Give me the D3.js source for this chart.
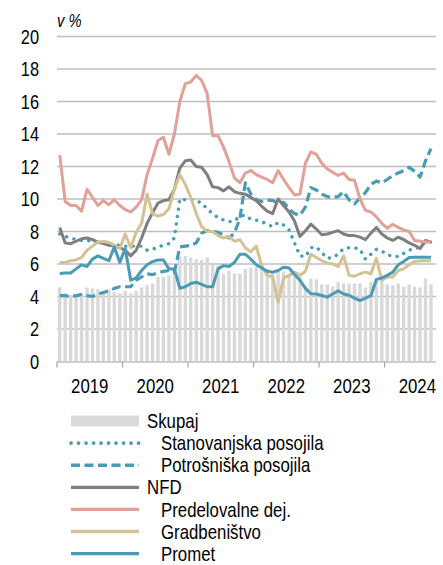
<!DOCTYPE html>
<html><head><meta charset="utf-8">
<script src="https://cdn.jsdelivr.net/npm/d3@7"></script>
<style>
html,body{margin:0;padding:0;background:#fff;}
svg{display:block;}
text{font-family:"Liberation Sans",Arial,sans-serif;fill:#000;}
</style></head>
<body>
<svg id="c" width="443" height="565"></svg>
<script>
const years = ["2019","2020","2021","2022","2023","2024"];
const yTicks = [0,2,4,6,8,10,12,14,16,18,20];
const nMonths = 69; // Jan 2019 – Sep 2024

const skupaj = [4.57,4.2,4.1,4.06,4.15,4.55,4.5,4.45,4.2,4.45,4.3,4.2,
  4.35,4.2,4.35,4.55,4.7,4.8,5.2,5.2,5.3,5.6,6.46,6.5,
  6.4,6.3,6.25,6.4,6.0,5.9,5.4,5.6,5.4,5.4,5.7,5.75,
  5.8,5.8,5.7,5.55,5.5,5.55,5.3,5.25,5.2,4.7,5.1,5.05,
  4.75,4.75,4.6,4.9,4.8,4.8,4.8,4.8,4.55,4.9,5.05,5.0,
  4.75,4.7,4.8,4.6,4.75,4.6,4.55,5.1,4.75];
const stanovanjska = [7.85,7.7,7.6,7.5,7.45,7.45,7.4,7.35,7.3,7.25,7.2,7.15,
  7.1,7.1,7.1,7.1,6.85,6.9,7.05,7.15,7.25,7.6,10.0,9.95,
  9.95,9.9,9.75,9.4,9.1,8.85,8.7,8.6,8.65,8.95,9.0,8.75,
  8.7,8.6,8.45,8.3,8.55,8.4,8.1,7.3,6.5,6.45,7.0,7.05,
  6.7,6.35,6.4,6.6,6.95,7.0,7.0,6.9,6.3,6.6,6.9,6.8,
  6.55,6.5,6.45,6.65,6.85,6.95,7.05,7.35,7.35];
const potrosniska = [4.05,4.05,4.0,4.05,4.12,4.05,4.0,4.15,4.25,4.35,4.5,4.6,
  4.6,4.6,5.0,5.2,5.4,5.35,5.45,5.55,5.6,5.5,7.05,7.1,
  7.15,7.3,7.9,8.05,8.0,7.95,7.8,7.6,7.9,8.8,11.0,10.3,
  9.95,9.85,9.95,9.9,9.75,9.8,9.4,9.1,9.0,9.5,10.7,10.55,
  10.3,10.15,10.1,10.15,10.45,9.95,9.7,10.05,10.4,10.9,11.1,11.0,
  11.2,11.45,11.6,11.75,11.95,11.7,11.35,12.35,13.1];
const nfd = [8.25,7.3,7.25,7.4,7.55,7.6,7.5,7.35,7.25,7.15,7.1,7.0,
  6.85,6.5,6.85,7.6,8.5,9.15,9.75,9.9,9.95,10.6,11.9,12.35,
  12.4,12.0,11.95,11.5,10.75,10.7,10.5,10.75,10.45,10.35,10.3,10.1,
  9.9,9.55,9.25,9.1,10.0,9.6,9.2,8.65,7.7,8.05,8.45,8.15,
  7.8,7.85,7.95,8.05,7.85,7.75,7.75,7.65,7.5,7.9,8.25,7.85,
  7.6,7.45,7.65,7.5,7.3,7.15,6.95,7.45,7.35];
const predelovalne = [12.7,9.85,9.6,9.6,9.25,10.6,10.1,9.6,9.9,9.65,9.95,9.6,
  9.35,9.2,9.5,9.95,11.5,12.5,13.6,13.8,12.75,14.0,16.0,17.1,
  17.2,17.6,17.3,16.5,13.9,13.9,13.2,12.3,11.3,11.0,11.6,11.75,
  11.5,11.35,11.2,11.0,11.75,11.2,10.7,10.25,10.3,12.2,12.9,12.75,
  12.2,11.85,11.65,11.45,11.6,11.2,11.15,10.0,9.3,9.2,8.9,8.5,
  8.2,8.45,8.25,8.1,8.0,7.45,7.4,7.35,7.35];
const gradbenistvo = [6.1,6.1,6.2,6.25,6.4,6.85,7.1,7.35,7.38,7.34,7.15,6.95,
  7.85,7.0,7.95,8.5,10.3,9.1,8.95,9.05,9.4,10.6,11.5,10.9,
  10.1,9.1,8.3,8.0,8.0,7.75,7.6,7.7,7.4,7.5,7.0,6.75,
  7.1,5.9,5.3,5.2,3.65,5.15,5.3,5.5,5.3,5.55,6.6,6.4,
  6.2,6.05,6.0,5.85,6.5,5.3,5.25,5.4,5.5,5.4,6.35,5.0,
  5.2,5.2,5.6,5.7,5.95,6.15,6.2,6.2,6.2];
const promet = [5.42,5.44,5.45,5.7,5.95,5.85,6.3,6.5,6.35,6.2,7.05,6.1,
  6.95,5.0,5.15,5.6,5.95,6.15,6.25,6.25,5.7,5.7,4.5,4.6,
  4.8,4.88,4.75,4.6,4.6,5.7,5.9,5.85,6.1,6.6,6.6,6.3,
  5.95,5.75,5.55,5.5,5.6,5.8,5.75,5.35,5.0,4.5,4.17,4.15,
  4.06,3.96,4.15,4.35,4.15,4.08,3.9,3.75,3.9,4.05,5.05,5.15,
  5.3,5.5,5.95,6.15,6.4,6.42,6.42,6.42,6.42];

const TEAL = "#4a9bb5", GREY = "#7f7f7f", PINK = "#e2a096", TAN = "#d4c196", BAR = "#d9d9d9", GRID = "#bfbfbf";

const series = [
  {name:"Stanovanjska posojila", data:stanovanjska, color:TEAL, dash:"0.1 7.4", cap:"round", w:3.4, indent:true},
  {name:"Potrošniška posojila", data:potrosniska, color:TEAL, dash:"9 4.5", cap:"butt", w:3.2, indent:true},
  {name:"NFD", data:nfd, color:GREY, dash:null, cap:"butt", w:3, indent:false},
  {name:"Predelovalne dej.", data:predelovalne, color:PINK, dash:null, cap:"butt", w:3, indent:true},
  {name:"Gradbeništvo", data:gradbenistvo, color:TAN, dash:null, cap:"butt", w:3, indent:true},
  {name:"Promet", data:promet, color:TEAL, dash:null, cap:"butt", w:3, indent:true}
];

const svg = d3.select("#c");
const x = d3.scaleLinear().domain([0, nMonths]).range([57, 433.7]);
const y = d3.scaleLinear().domain([0, 20]).range([361.5, 36.5]);
const SX = 0.82; // narrow (Arial Narrow-like) text

function ntext(g, tx, ty, str, size, anchor, extra) {
  const t = g.append("text")
    .attr("transform", `translate(${tx},${ty}) scale(${SX},1)`)
    .attr("font-size", size).attr("text-anchor", anchor || "start").text(str);
  if (extra) extra(t);
  return t;
}

// gridlines
svg.append("g").selectAll("line").data(yTicks.filter(d=>d>0)).join("line")
  .attr("x1", 57).attr("x2", 436).attr("y1", d=>y(d)).attr("y2", d=>y(d))
  .attr("stroke", GRID).attr("stroke-width", 1.4);

// y labels
const gy = svg.append("g");
yTicks.forEach(v => ntext(gy, 39, y(v), d3.format("d")(v), 20, "end", t=>t.attr("dy","0.36em")));

// bars
const bw = 3.4;
svg.append("g").selectAll("rect").data(skupaj).join("rect")
  .attr("x", (d,i)=>x(i+0.5)-bw/2).attr("width", bw)
  .attr("y", d=>y(d)).attr("height", d=>y(0)-y(d))
  .attr("fill", BAR);

// x axis
svg.append("line").attr("x1",57).attr("x2",436).attr("y1",y(0)+0.5).attr("y2",y(0)+0.5)
  .attr("stroke", GRID).attr("stroke-width",1.4);
const yearIdx = years.map((d,i)=>i*12);
svg.append("g").selectAll("line").data(yearIdx).join("line")
  .attr("x1", d=>x(d)).attr("x2", d=>x(d)).attr("y1", y(0)).attr("y2", y(0)+6)
  .attr("stroke", "#a6a6a6").attr("stroke-width",1.2);
const gx = svg.append("g");
years.forEach((yr,i)=> ntext(gx, x(i*12+6), 393, yr, 20.5, "middle"));

// lines
const line = d3.line().x((d,i)=>x(i+0.5)).y(d=>y(d));
svg.append("g").selectAll("path").data(series).join("path")
  .attr("d", d=>line(d.data)).attr("fill","none")
  .attr("stroke", d=>d.color).attr("stroke-width", d=>d.w)
  .attr("stroke-dasharray", d=>d.dash).attr("stroke-linecap", d=>d.cap)
  .attr("stroke-linejoin","round");

// unit label
ntext(svg, 57, 27, "v %", 18, "start", t=>t.attr("font-style","italic"));

// legend
const lg = svg.append("g");
const rowY = i => 421 + i*22.1;
lg.append("rect").attr("x",71).attr("y",rowY(0)-5.5).attr("width",68).attr("height",11).attr("fill",BAR);
ntext(lg, 147, rowY(0), "Skupaj", 20.5, "start", t=>t.attr("dy","0.35em"));
series.forEach((s,k)=>{
  const ry = rowY(k+1);
  lg.append("line").attr("x1",71).attr("x2",139).attr("y1",ry).attr("y2",ry)
    .attr("stroke",s.color).attr("stroke-width",s.w+0.3)
    .attr("stroke-dasharray",s.dash).attr("stroke-linecap",s.cap);
  ntext(lg, s.indent?161:147, ry, s.name, 20.5, "start", t=>t.attr("dy","0.35em"));
});
</script>
</body></html>
